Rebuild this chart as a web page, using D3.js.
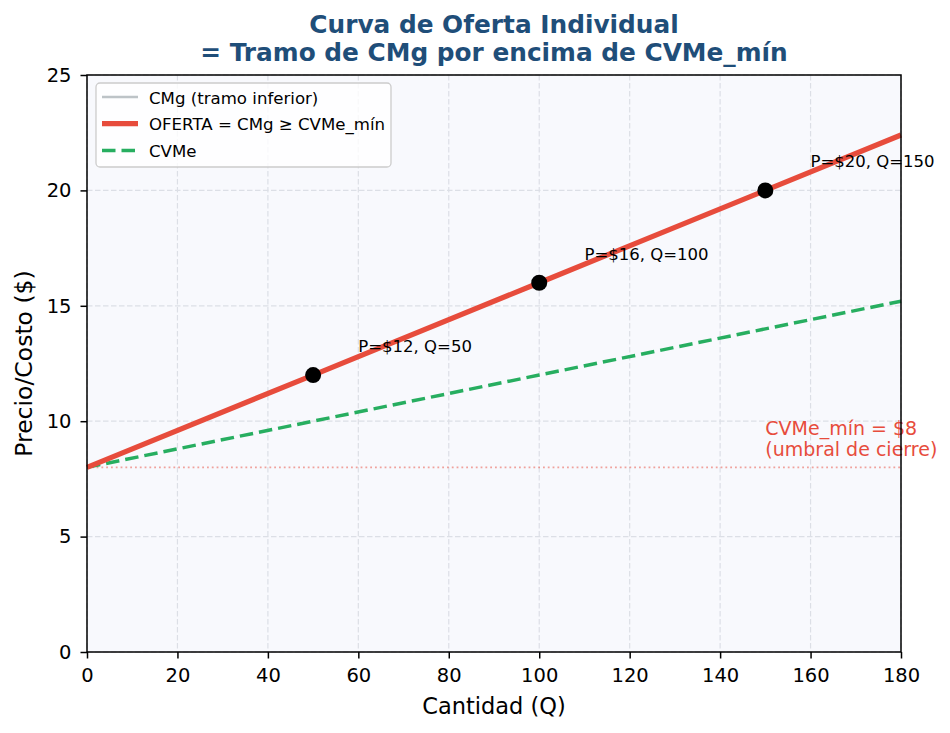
<!DOCTYPE html>
<html>
<head>
<meta charset="utf-8">
<script src="https://cdn.jsdelivr.net/npm/d3@7"></script>
<style>
  body { margin: 0; background: #fff; }
  svg { font-family: "DejaVu Sans", sans-serif; }
</style>
</head>
<body>
<svg id="chart" width="950" height="733"></svg>
<script>
// data
var qValues = [0, 50, 100, 150, 180];
var cmgValues = [8, 12, 16, 20, 22.4];
var cvmeValues = [8, 10, 12, 14, 15.2];
var pointQ = [50, 100, 150];
var pointP = [12, 16, 20];
var pointLabels = ["P=$12, Q=50", "P=$16, Q=100", "P=$20, Q=150"];
var xTicks = [0, 20, 40, 60, 80, 100, 120, 140, 160, 180];
var yTicks = [0, 5, 10, 15, 20, 25];
var cvmeMin = 8;
var legendItems = ["CMg (tramo inferior)", "OFERTA = CMg \u2265 CVMe_m\u00edn", "CVMe"];

var margin = {top: 75, right: 49, bottom: 81, left: 87},
    width = 950 - margin.left - margin.right,
    height = 733 - margin.top - margin.bottom;

var x = d3.scaleLinear().domain([0, 180]).range([0, width]);
var y = d3.scaleLinear().domain([0, 25]).range([height, 0]);

var svg = d3.select("#chart");

svg.append("text")
    .attr("x", margin.left + width / 2)
    .attr("y", 33)
    .attr("text-anchor", "middle")
    .style("font-size", "24.8px")
    .style("font-weight", "bold")
    .style("fill", "#1f4e79")
    .text("Curva de Oferta Individual");
svg.append("text")
    .attr("x", margin.left + width / 2)
    .attr("y", 61)
    .attr("text-anchor", "middle")
    .style("font-size", "24.8px")
    .style("font-weight", "bold")
    .style("fill", "#1f4e79")
    .text("= Tramo de CMg por encima de CVMe_m\u00edn");

var chart = svg.append("g")
    .attr("transform", "translate(" + margin.left + "," + margin.top + ")");

chart.append("rect")
    .attr("width", width)
    .attr("height", height)
    .style("fill", "#f8f9fd");

// grid
chart.selectAll(".gx").data(xTicks).enter().append("line")
    .attr("x1", function(d) { return x(d); })
    .attr("x2", function(d) { return x(d); })
    .attr("y1", 0).attr("y2", height)
    .style("stroke", "#dcdfe6")
    .style("stroke-dasharray", "5.5,2.5")
    .style("stroke-width", 1.2);
chart.selectAll(".gy").data(yTicks).enter().append("line")
    .attr("y1", function(d) { return y(d); })
    .attr("y2", function(d) { return y(d); })
    .attr("x1", 0).attr("x2", width)
    .style("stroke", "#dcdfe6")
    .style("stroke-dasharray", "5.5,2.5")
    .style("stroke-width", 1.2);

// threshold line
chart.append("line")
    .attr("x1", x(0)).attr("x2", x(180))
    .attr("y1", y(cvmeMin)).attr("y2", y(cvmeMin))
    .style("stroke", "#e74c3c")
    .style("stroke-opacity", 0.5)
    .style("stroke-width", 1.6)
    .style("stroke-dasharray", "1.8,3");

var line = d3.line()
    .x(function(d) { return x(d[0]); })
    .y(function(d) { return y(d[1]); });

chart.append("path")
    .datum(d3.zip(qValues, cvmeValues))
    .attr("d", line)
    .style("fill", "none")
    .style("stroke", "#27ae60")
    .style("stroke-width", 3.5)
    .style("stroke-dasharray", "13.5,6");

chart.append("path")
    .datum(d3.zip(qValues, cmgValues))
    .attr("d", line)
    .style("fill", "none")
    .style("stroke", "#e74c3c")
    .style("stroke-width", 5.2);

chart.selectAll(".pt").data(d3.zip(pointQ, pointP)).enter().append("circle")
    .attr("cx", function(d) { return x(d[0]); })
    .attr("cy", function(d) { return y(d[1]); })
    .attr("r", 8)
    .style("fill", "#000");

chart.selectAll(".lbl").data(d3.zip(pointQ, pointP, pointLabels)).enter().append("text")
    .attr("x", function(d) { return x(d[0] + 10); })
    .attr("y", function(d) { return y(d[1] + 1); })
    .style("font-size", "16.5px")
    .style("fill", "#000")
    .text(function(d) { return d[2]; });

chart.append("text")
    .attr("x", x(150))
    .attr("y", y(cvmeMin + 0.5) - 21)
    .style("font-size", "19px")
    .style("fill", "#e74c3c")
    .text("CVMe_m\u00edn = $8");
chart.append("text")
    .attr("x", x(150))
    .attr("y", y(cvmeMin + 0.5))
    .style("font-size", "19px")
    .style("fill", "#e74c3c")
    .text("(umbral de cierre)");

// axes
var xAxis = chart.append("g")
    .attr("transform", "translate(0," + height + ")")
    .call(d3.axisBottom(x).tickValues(xTicks).tickSize(6.5).tickPadding(10));
var yAxis = chart.append("g")
    .call(d3.axisLeft(y).tickValues(yTicks).tickSize(6.5).tickPadding(9));
[xAxis, yAxis].forEach(function(a) {
  a.select(".domain").remove();
  a.selectAll("text").style("font-size", "19.5px").style("font-family", "DejaVu Sans").style("fill", "#000");
  a.selectAll("line").style("stroke", "#000").style("stroke-width", 1.5);
});

chart.append("rect")
    .attr("width", width)
    .attr("height", height)
    .style("fill", "none")
    .style("stroke", "#000")
    .style("stroke-width", 1.5);

svg.append("text")
    .attr("x", margin.left + width / 2)
    .attr("y", 714)
    .attr("text-anchor", "middle")
    .style("font-size", "22.5px")
    .text("Cantidad (Q)");
svg.append("text")
    .attr("transform", "translate(32," + (margin.top + height / 2) + ") rotate(-90)")
    .attr("text-anchor", "middle")
    .style("font-size", "23.5px")
    .text("Precio/Costo ($)");

// legend
var legend = chart.append("g").attr("transform", "translate(9,8)");
legend.append("rect")
    .attr("width", 295).attr("height", 84)
    .attr("rx", 4)
    .style("fill", "#fff").style("fill-opacity", 0.8)
    .style("stroke", "#cccccc")
    .style("stroke-width", 1.3);
var legendStyles = [
  {color: "#bdc3c7", w: 2.7, dash: null},
  {color: "#e74c3c", w: 5.2, dash: null},
  {color: "#27ae60", w: 3.5, dash: "13.5,6"}
];
legendItems.forEach(function(t, i) {
  var yy = 14 + i * 26.7;
  legend.append("line")
      .attr("x1", 6).attr("x2", 42)
      .attr("y1", yy).attr("y2", yy)
      .style("stroke", legendStyles[i].color)
      .style("stroke-width", legendStyles[i].w)
      .style("stroke-dasharray", legendStyles[i].dash);
  legend.append("text")
      .attr("x", 53).attr("y", yy + 6.5)
      .style("font-size", "16.6px")
      .text(t);
});
</script>
</body>
</html>
